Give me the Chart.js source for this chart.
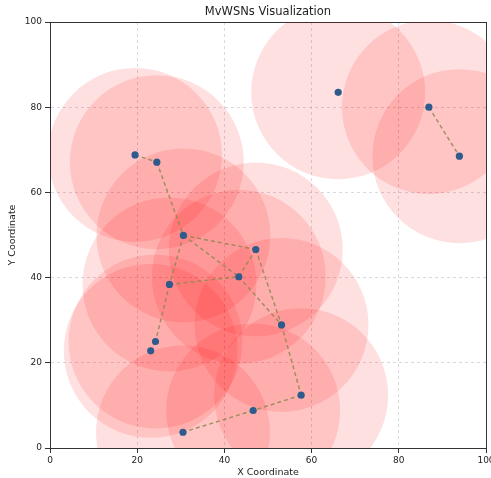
<!DOCTYPE html>
<html><head><meta charset="utf-8">
<script src="https://cdn.jsdelivr.net/npm/chart.js@4/dist/chart.umd.min.js"></script>
<style>html,body{margin:0;padding:0;background:#fff}</style>
</head><body>
<canvas id="c" width="491" height="478"></canvas>
<script>
const nodeX = [19.5, 24.5, 30.6, 47.2, 43.3, 27.4, 53.1, 24.2, 23.1, 57.6, 46.6, 30.5, 66.1, 86.9, 93.9];
const nodeY = [68.8, 67.1, 49.9, 46.6, 40.2, 38.4, 28.9, 25.0, 22.8, 12.4, 8.8, 3.7, 83.5, 80.0, 68.5];
const commRange = 20;
const edgeFrom = [0, 1, 2, 2, 2, 3, 3, 4, 5, 5, 7, 6, 9, 10, 13];
const edgeTo   = [1, 2, 3, 4, 5, 4, 6, 6, 4, 7, 8, 9, 10, 11, 14];
const tickValues = [0, 20, 40, 60, 80, 100];

Chart.defaults.font.family = "'DejaVu Sans', sans-serif";
const txt = '#222';
const axisLine = '#333';
const gridCol = 'rgba(170,170,190,0.45)';

const makePoints = () => nodeX.map((x, i) => ({x: x, y: nodeY[i]}));

const edgeData = [];
edgeFrom.forEach((a, i) => {
  const b = edgeTo[i];
  edgeData.push({x: nodeX[a], y: nodeY[a]}, {x: nodeX[b], y: nodeY[b]}, {x: null, y: null});
});

// sets the circle radius (commRange in x data units) in pixels once the scales are laid out
const rangePlugin = {
  id: 'rangeRadius',
  afterLayout(chart) {
    const s = chart.scales.x;
    const v = Math.abs(s.getPixelForValue(commRange) - s.getPixelForValue(0));
    if (isFinite(v) && v > 0) chart.data.datasets[0].radius = v;
  }
};

new Chart(document.getElementById('c'), {
  type: 'scatter',
  plugins: [rangePlugin],
  data: {
    datasets: [
      {
        type: 'bubble',
        data: makePoints(),
        backgroundColor: 'rgba(255,0,0,0.12)',
        borderWidth: 0,
        clip: 0,
        radius: 87,
        order: 3
      },
      {
        type: 'line',
        data: edgeData,
        borderColor: 'rgba(145,135,80,0.85)',
        borderWidth: 1.5,
        borderDash: [4, 3],
        pointRadius: 0,
        spanGaps: false,
        fill: false,
        order: 2
      },
      {
        type: 'scatter',
        data: makePoints(),
        backgroundColor: '#2f5a8c',
        borderWidth: 0,
        pointRadius: 3.6,
        order: 1
      }
    ]
  },
  options: {
    responsive: false,
    animation: false,
    events: [],
    devicePixelRatio: 1,
    layout: {padding: 0, autoPadding: false},
    plugins: {legend: {display: false}, tooltip: {enabled: false}, title: {display: false}},
    scales: {
      x: {
        type: 'linear', position: 'bottom', min: 0, max: 100,
        afterBuildTicks: (s) => { s.ticks = tickValues.map(v => ({value: v})); },
        ticks: {font: {size: 9}, color: txt, padding: 2, maxRotation: 0, autoSkip: false},
        grid: {color: gridCol, tickColor: axisLine, tickLength: 5, lineWidth: 1},
        border: {display: true, color: axisLine, width: 1, dash: [3, 3]},
        title: {display: true, text: 'X Coordinate', font: {size: 9.5}, color: txt, padding: {top: 0, bottom: 0}},
        afterFit: (s) => { s.height = 30; s.paddingLeft = 0; s.paddingRight = 0; }
      },
      y: {
        type: 'linear', position: 'left', min: 0, max: 100,
        afterBuildTicks: (s) => { s.ticks = tickValues.map(v => ({value: v})); },
        ticks: {font: {size: 9}, color: txt, padding: 3},
        grid: {color: gridCol, tickColor: axisLine, tickLength: 5, lineWidth: 1},
        border: {display: true, color: axisLine, width: 1, dash: [3, 3]},
        title: {display: true, text: 'Y Coordinate', font: {size: 9.5}, color: txt, padding: {top: 7, bottom: 0}},
        afterFit: (s) => { s.width = 50; s.paddingTop = 0; s.paddingBottom = 0; }
      },
      xTop: {
        type: 'linear', axis: 'x', position: 'top', min: 0, max: 100,
        ticks: {display: false},
        grid: {display: false, drawTicks: false},
        border: {display: true, color: axisLine, width: 1},
        title: {display: true, text: 'MvWSNs Visualization', font: {size: 11.5}, color: txt, padding: {top: 5.6, bottom: 0}},
        afterFit: (s) => { s.height = 22; s.paddingLeft = 0; s.paddingRight = 0; }
      },
      yRight: {
        type: 'linear', axis: 'y', position: 'right', min: 0, max: 100,
        ticks: {display: false},
        grid: {display: false, drawTicks: false},
        border: {display: true, color: axisLine, width: 1},
        afterFit: (s) => { s.width = 5; s.paddingTop = 0; s.paddingBottom = 0; }
      }
    }
  }
});
</script>
</body></html>
